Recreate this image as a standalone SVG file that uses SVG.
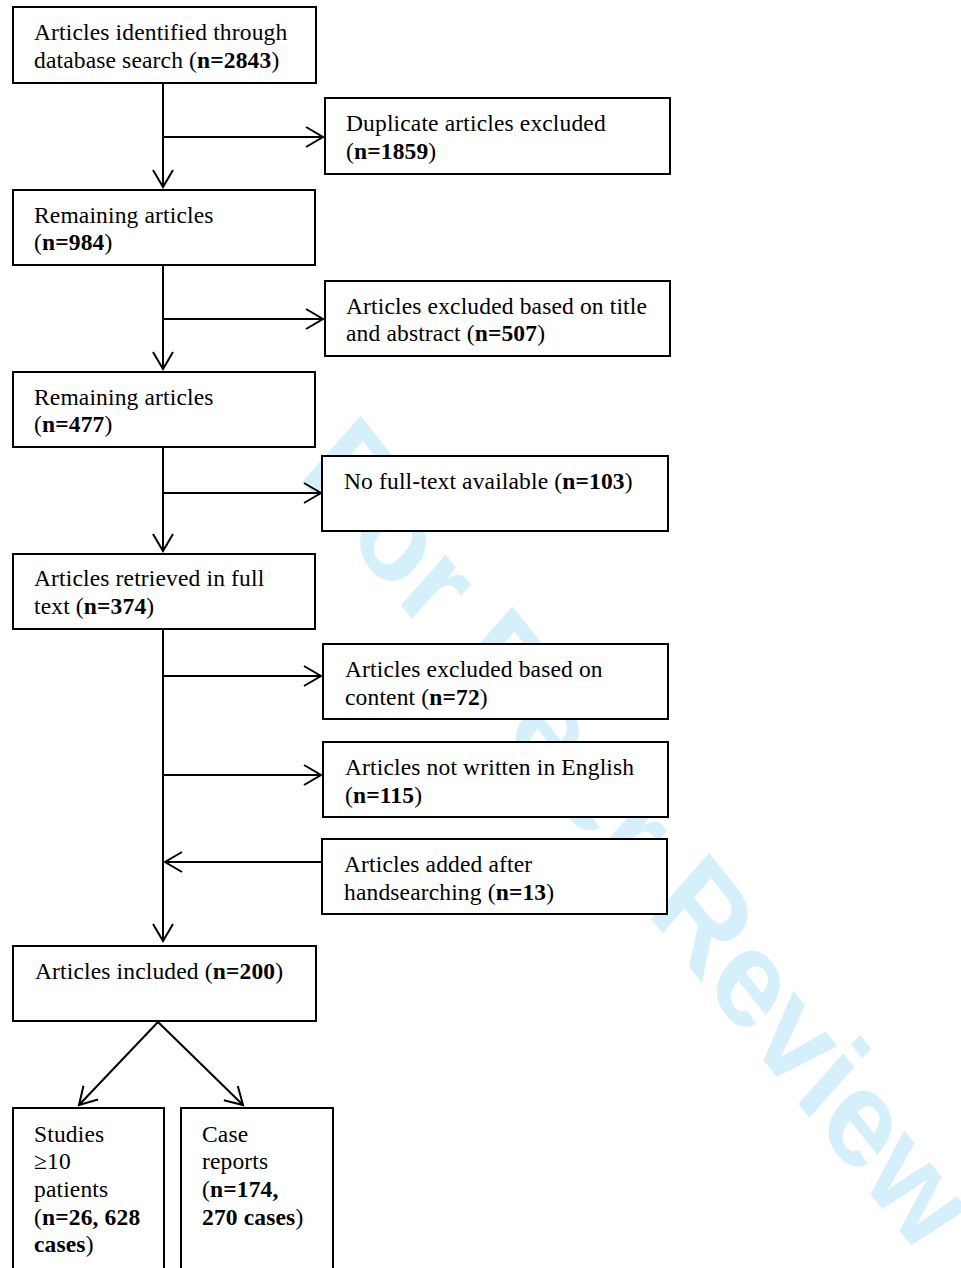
<svg xmlns="http://www.w3.org/2000/svg" width="961" height="1268" viewBox="0 0 961 1268">
<style>
.box{fill:#fff;stroke:#000;stroke-width:2}
.t{font-family:"Liberation Serif","Times New Roman",serif;font-size:23.5px;letter-spacing:0.15px;fill:#000}
.b{font-weight:bold}
.ln{fill:none;stroke:#000;stroke-width:2}
.wm{font-family:"Liberation Sans",Arial,sans-serif;font-weight:bold;font-size:139px;fill:#d5effb}
</style>
<defs>
<marker id="ah" markerUnits="userSpaceOnUse" markerWidth="40" markerHeight="40" refX="0" refY="0" orient="auto" overflow="visible">
<path d="M-17,-10 L0,0 L-17,10" fill="none" stroke="#000" stroke-width="2"/>
</marker>
</defs>
<rect width="961" height="1268" fill="#fff"/>
<text class="wm" transform="translate(297,475) scale(0.84,1) rotate(46.5)">For Peer Review</text>
<g id="connectors">
<line class="ln" x1="163" y1="83" x2="163" y2="187" marker-end="url(#ah)"/>
<line class="ln" x1="163" y1="137" x2="323" y2="137" marker-end="url(#ah)"/>
<line class="ln" x1="163" y1="265" x2="163" y2="369" marker-end="url(#ah)"/>
<line class="ln" x1="163" y1="319" x2="323" y2="319" marker-end="url(#ah)"/>
<line class="ln" x1="163" y1="447" x2="163" y2="551" marker-end="url(#ah)"/>
<line class="ln" x1="163" y1="493" x2="321" y2="493" marker-end="url(#ah)"/>
<line class="ln" x1="163" y1="629" x2="163" y2="941" marker-end="url(#ah)"/>
<line class="ln" x1="163" y1="676" x2="321" y2="676" marker-end="url(#ah)"/>
<line class="ln" x1="163" y1="775" x2="321" y2="775" marker-end="url(#ah)"/>
<line class="ln" x1="322" y1="862" x2="165" y2="862" marker-end="url(#ah)"/>
<line class="ln" x1="158" y1="1022" x2="79" y2="1105" marker-end="url(#ah)"/>
<line class="ln" x1="158" y1="1022" x2="243" y2="1105" marker-end="url(#ah)"/>
</g>
<g id="n1"><rect class="box" x="13" y="7" width="303" height="76"/>
<text class="t" x="34" y="40">Articles identified through</text>
<text class="t" x="34" y="68">database search (<tspan class="b">n=2843</tspan>)</text></g>
<g id="n2"><rect class="box" x="325" y="98" width="345" height="76"/>
<text class="t" x="346" y="131">Duplicate articles excluded</text>
<text class="t" x="346" y="159">(<tspan class="b">n=1859</tspan>)</text></g>
<g id="n3"><rect class="box" x="13" y="190" width="302" height="75"/>
<text class="t" x="34" y="223">Remaining articles</text>
<text class="t" x="34" y="250">(<tspan class="b">n=984</tspan>)</text></g>
<g id="n4"><rect class="box" x="325" y="281" width="345" height="75"/>
<text class="t" x="346" y="314">Articles excluded based on title</text>
<text class="t" x="346" y="341">and abstract (<tspan class="b">n=507</tspan>)</text></g>
<g id="n5"><rect class="box" x="13" y="372" width="302" height="75"/>
<text class="t" x="34" y="405">Remaining articles</text>
<text class="t" x="34" y="432">(<tspan class="b">n=477</tspan>)</text></g>
<g id="n6"><rect class="box" x="322" y="456" width="346" height="75"/>
<text class="t" x="344" y="489">No full-text available (<tspan class="b">n=103</tspan>)</text></g>
<g id="n7"><rect class="box" x="13" y="554" width="302" height="75"/>
<text class="t" x="34" y="586">Articles retrieved in full</text>
<text class="t" x="34" y="614">text (<tspan class="b">n=374</tspan>)</text></g>
<g id="n8"><rect class="box" x="323" y="644" width="345" height="75"/>
<text class="t" x="345" y="677">Articles excluded based on</text>
<text class="t" x="345" y="705">content (<tspan class="b">n=72</tspan>)</text></g>
<g id="n9"><rect class="box" x="323" y="742" width="345" height="75"/>
<text class="t" x="345" y="775">Articles not written in English</text>
<text class="t" x="345" y="803">(<tspan class="b">n=115</tspan>)</text></g>
<g id="n10"><rect class="box" x="322" y="839" width="345" height="75"/>
<text class="t" x="344" y="872">Articles added after</text>
<text class="t" x="344" y="900">handsearching (<tspan class="b">n=13</tspan>)</text></g>
<g id="n11"><rect class="box" x="13" y="946" width="303" height="75"/>
<text class="t" x="35" y="979">Articles included (<tspan class="b">n=200</tspan>)</text></g>
<g id="n12"><rect class="box" x="13" y="1108" width="151" height="170"/>
<text class="t" x="34" y="1142">Studies</text>
<text class="t" x="34" y="1169">≥10</text>
<text class="t" x="34" y="1197">patients</text>
<text class="t" x="34" y="1225">(<tspan class="b">n=26, 628</tspan></text>
<text class="t" x="34" y="1252"><tspan class="b">cases</tspan>)</text></g>
<g id="n13"><rect class="box" x="181" y="1108" width="152" height="170"/>
<text class="t" x="202" y="1142">Case</text>
<text class="t" x="202" y="1169">reports</text>
<text class="t" x="202" y="1197">(<tspan class="b">n=174,</tspan></text>
<text class="t" x="202" y="1225"><tspan class="b">270 cases</tspan>)</text></g>
</svg>
